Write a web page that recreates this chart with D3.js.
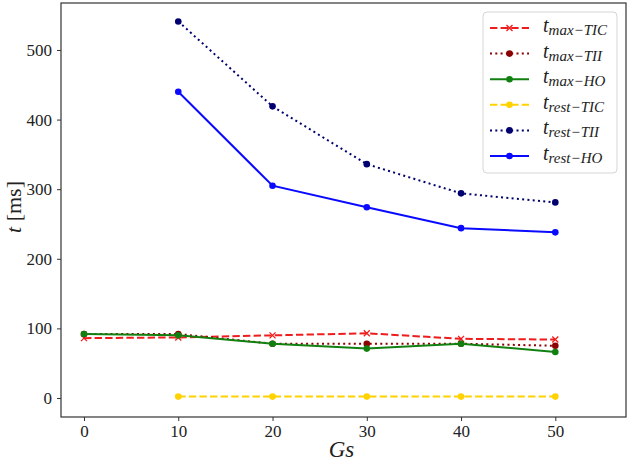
<!DOCTYPE html>
<html>
<head>
<meta charset="utf-8">
<script src="https://cdn.jsdelivr.net/npm/d3@7"></script>
<style>
  body { margin: 0; background: #fff; }
  text { font-family: "Liberation Serif", "DejaVu Serif", serif; fill: #222; }
</style>
</head>
<body>
<div id="chart"></div>
<script>
// x values (Gs)
var gs = [0, 10, 20, 30, 40, 50];
var yTicks = [0, 100, 200, 300, 400, 500];

// series values (null = no point)
var tmaxTIC  = [86, 87, 90, 93, 85, 84];
var tmaxTII  = [92, 92, 78, 78, 78, 75];
var tmaxHO   = [92, 90, 78, 71, 78, 66];
var trestTIC = [null, 2, 2, 2, 2, 2];
var trestTII = [null, 541, 419, 336, 294, 281];
var trestHO  = [null, 440, 305, 274, 244, 238];

var seriesNames = ["max\u2212TIC", "max\u2212TII", "max\u2212HO", "rest\u2212TIC", "rest\u2212TII", "rest\u2212HO"];
var seriesValues = [tmaxTIC, tmaxTII, tmaxHO, trestTIC, trestTII, trestHO];
var seriesColors = ["#ee1c1c", "#8b0000", "#118011", "#ffd200", "#000070", "#0a0aff"];
var seriesDash = ["7.4,3.2", "2,3.3", null, "7.4,3.2", "2,3.3", null];
var seriesMarker = ["x", "o", "o", "o", "o", "o"];

var width = 630, height = 461;
var margin = { left: 61, top: 3, right: 4, bottom: 44 };

var svg = d3.select("#chart").append("svg")
    .attr("width", width)
    .attr("height", height);

var x = d3.scaleLinear()
    .domain([-2.44, 57.5])
    .range([margin.left, width - margin.right]);

var y = d3.scaleLinear()
    .domain([-27.3, 567.5])
    .range([height - margin.bottom, margin.top]);

// axes
var xAxis = d3.axisBottom(x).tickValues(gs).tickSize(4).tickPadding(4);
var yAxis = d3.axisLeft(y).tickValues(yTicks).tickSize(4).tickPadding(5);

var gx = svg.append("g")
    .attr("transform", "translate(0," + (height - margin.bottom) + ")")
    .call(xAxis);
var gy = svg.append("g")
    .attr("transform", "translate(" + margin.left + ",0)")
    .call(yAxis);

[gx, gy].forEach(function (g) {
    g.select(".domain").remove();
    g.selectAll(".tick line").attr("stroke", "#333").attr("stroke-width", 1);
    g.selectAll(".tick text")
        .style("font-family", "'Liberation Serif', serif")
        .style("font-size", "17px")
        .attr("fill", "#333");
});

// frame
svg.append("rect")
    .attr("x", margin.left)
    .attr("y", margin.top)
    .attr("width", width - margin.left - margin.right)
    .attr("height", height - margin.top - margin.bottom)
    .attr("fill", "none")
    .attr("stroke", "#333")
    .attr("stroke-width", 1.2);

// axis labels
svg.append("text")
    .attr("x", (margin.left + width - margin.right) / 2 - 2)
    .attr("y", 457)
    .attr("text-anchor", "middle")
    .style("font-size", "23px")
    .style("font-style", "italic")
    .text("Gs");

var yl = svg.append("text")
    .attr("transform", "translate(21," + 207 + ") rotate(-90)")
    .attr("text-anchor", "middle")
    .style("font-size", "22px");
yl.append("tspan").style("font-style", "italic").text("t");
yl.append("tspan").text(" [ms]");

var line = d3.line()
    .defined(function (d) { return d[1] != null; })
    .x(function (d) { return x(d[0]); })
    .y(function (d) { return y(d[1]); });

function drawMarker(g, type, cx, cy, color, r) {
    if (type == "x") {
        g.append("path")
            .attr("d", "M" + (cx - r) + "," + (cy - r) + "L" + (cx + r) + "," + (cy + r) +
                "M" + (cx - r) + "," + (cy + r) + "L" + (cx + r) + "," + (cy - r))
            .attr("stroke", color)
            .attr("stroke-width", 1.3)
            .attr("fill", "none");
    } else {
        g.append("circle")
            .attr("cx", cx).attr("cy", cy).attr("r", r)
            .attr("fill", color);
    }
}

var plot = svg.append("g");

seriesValues.forEach(function (vals, i) {
    var pts = gs.map(function (g, j) { return [g, vals[j]]; });
    var s = plot.append("g");
    s.append("path")
        .datum(pts)
        .attr("d", line)
        .attr("fill", "none")
        .attr("stroke", seriesColors[i])
        .attr("stroke-width", 2)
        .attr("stroke-dasharray", seriesDash[i]);
    pts.forEach(function (p) {
        if (p[1] == null) return;
        drawMarker(s, seriesMarker[i], x(p[0]), y(p[1]), seriesColors[i], seriesMarker[i] == "x" ? 3 : 3.3);
    });
});

// legend
var legend = svg.append("g").attr("transform", "translate(483,12)");
legend.append("rect")
    .attr("width", 134)
    .attr("height", 161)
    .attr("rx", 4)
    .attr("fill", "rgba(255,255,255,0.8)")
    .attr("stroke", "#d5d5d5");

seriesNames.forEach(function (name, i) {
    var ly = 16 + i * 25.6;
    var item = legend.append("g");
    item.append("line")
        .attr("x1", 7).attr("x2", 46)
        .attr("y1", ly).attr("y2", ly)
        .attr("stroke", seriesColors[i])
        .attr("stroke-width", 2)
        .attr("stroke-dasharray", seriesDash[i]);
    drawMarker(item, seriesMarker[i], 26.5, ly, seriesColors[i], seriesMarker[i] == "x" ? 3 : 3.3);
    var t = item.append("text")
        .attr("x", 60)
        .attr("y", ly + 4)
        .style("font-size", "20px")
        .style("font-style", "italic");
    t.append("tspan").text("t");
    t.append("tspan")
        .attr("dy", 3)
        .style("font-size", "15px")
        .text(name);
});
</script>
</body>
</html>
